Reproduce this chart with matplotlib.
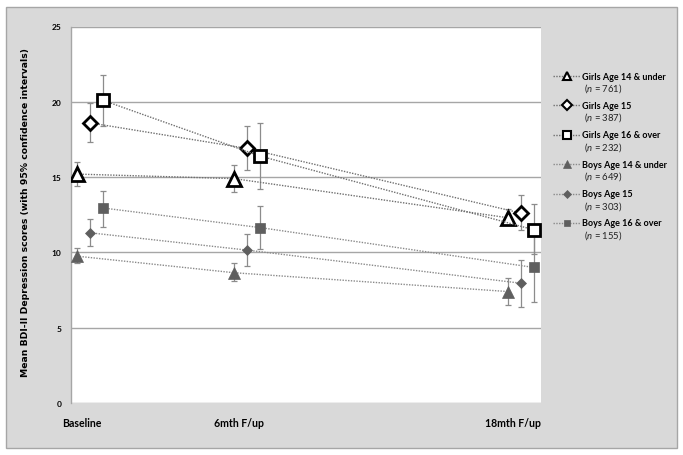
import matplotlib
matplotlib.use("Agg")
import matplotlib.pyplot as plt
from matplotlib.patches import Rectangle
from matplotlib.lines import Line2D
import numpy as np

plt.rcParams['font.family'] = ['Lato', 'DejaVu Sans']
plt.rcParams['mathtext.fontset'] = 'custom'
plt.rcParams['mathtext.rm'] = 'Lato'
plt.rcParams['mathtext.it'] = 'Lato:italic'
plt.rcParams['mathtext.bf'] = 'Lato:bold'

timepoints = ["Baseline", "6mth F/up", "18mth F/up"]
time_pos = [0.0, 1.0, 2.745]

series_names = ["Girls Age 14 & under", "Girls Age 15", "Girls Age 16 & over",
                "Boys Age 14 & under", "Boys Age 15", "Boys Age 16 & over"]
series_n = [761, 387, 232, 649, 303, 155]

girls14_mean = [15.2, 14.9, 12.3]
girls14_lo = [14.4, 14.0, 11.8]
girls14_hi = [16.0, 15.8, 12.9]

girls15_mean = [18.6, 16.9, 12.6]
girls15_lo = [17.3, 15.5, 11.5]
girls15_hi = [19.9, 18.4, 13.8]

girls16_mean = [20.1, 16.4, 11.5]
girls16_lo = [18.4, 14.2, 9.9]
girls16_hi = [21.8, 18.6, 13.2]

boys14_mean = [9.75, 8.65, 7.4]
boys14_lo = [9.3, 8.1, 6.5]
boys14_hi = [10.3, 9.3, 8.3]

boys15_mean = [11.3, 10.15, 7.95]
boys15_lo = [10.4, 9.1, 6.4]
boys15_hi = [12.2, 11.2, 9.5]

boys16_mean = [12.95, 11.65, 9.0]
boys16_lo = [11.7, 10.2, 6.7]
boys16_hi = [14.1, 13.1, 11.3]

means = [girls14_mean, girls15_mean, girls16_mean, boys14_mean, boys15_mean, boys16_mean]
los = [girls14_lo, girls15_lo, girls16_lo, boys14_lo, boys15_lo, boys16_lo]
his = [girls14_hi, girls15_hi, girls16_hi, boys14_hi, boys15_hi, boys16_hi]

offsets = [0.0, 0.085, 0.165, 0.0, 0.085, 0.165]
markers = ['^', 'D', 's', '^', 'D', 's']
msizes = [10, 7, 8.5, 8.5, 5.5, 7.5]
girls = [True, True, True, False, False, False]

W, H = 683, 456
fig = plt.figure(figsize=(W / 100, H / 100), dpi=100)
fig.patch.set_facecolor('white')
fig.patches.append(Rectangle((6/W, 1 - 449/H), 671/W, 441/H,
                             transform=fig.transFigure, facecolor='#d9d9d9',
                             edgecolor='#a6a6a6', linewidth=1.0, zorder=-10))

ax = fig.add_axes([71/W, 1 - 404/H, 470/W, 376.5/H])
ax.set_facecolor('white')

gray_err = '#8c8c8c'
styles = []
for i in range(6):
    x = np.array(time_pos) + offsets[i]
    m = np.array(means[i])
    lo = np.array(los[i])
    hi = np.array(his[i])
    ax.errorbar(x, m, yerr=[m - lo, hi - m], fmt='none', ecolor=gray_err,
                elinewidth=0.9, capsize=2.5, capthick=0.9, zorder=3)
    if girls[i]:
        st = dict(mfc='white', mec='black', mew=2.0, color='#6f6f6f')
    else:
        st = dict(mfc='#5f5f5f', mec='#5f5f5f', mew=0.5, color='#8a8a8a')
    styles.append(st)
    ax.plot(x, m, linestyle=(0, (1, 1)), color=st['color'], linewidth=1.0,
            marker=markers[i], markersize=msizes[i], markerfacecolor=st['mfc'],
            markeredgecolor=st['mec'], markeredgewidth=st['mew'], zorder=4)

ax.set_ylim(0, 25)
ax.set_xlim(-0.038, 2.955)
ax.set_yticks([0, 5, 10, 15, 20, 25])
ax.set_yticklabels(['0', '5', '10', '15', '20', '25'], fontsize=6, fontweight='bold')
ax.set_xticks(np.array(time_pos) + 0.03)
ax.set_xticklabels(timepoints, fontsize=7.6, fontweight='bold')
ax.tick_params(axis='x', length=0, pad=10)
ax.tick_params(axis='y', length=0, pad=7)
ax.grid(axis='y', color='#a6a6a6', linewidth=1.0)
ax.set_axisbelow(True)
for s in ['top', 'right', 'bottom']:
    ax.spines[s].set_visible(False)
ax.spines['left'].set_color('#a6a6a6')
ax.spines['left'].set_linewidth(1.0)

renderer = fig.canvas.get_renderer()


def fit_width(t, target_px, horizontal=True):
    bb = t.get_window_extent(renderer)
    size = bb.width if horizontal else bb.height
    t.set_fontsize(t.get_fontsize() * target_px / size)


ylab = fig.text(26/W, 1 - 212.5/H,
                'Mean BDI-II Depression scores (with 95% confidence intervals)',
                rotation=90, ha='center', va='center', fontsize=6.5, fontweight='bold',
                family='DejaVu Sans')
fit_width(ylab, 329, horizontal=False)

# legend (drawn manually in figure pixel coordinates)
row_y0, row_dy = 77.0, 29.4
leg_sizes = [6, 5, 5.5, 5.5, 4, 5]
name_texts = []
for i in range(6):
    y = 1 - (row_y0 + row_dy * i) / H
    xs = [553/W, 567/W, 580/W]
    st = styles[i]
    fig.add_artist(Line2D(xs, [y, y, y], transform=fig.transFigure,
                          linestyle=(0, (1, 1)), color=st['color'], linewidth=1.0,
                          marker=markers[i], markevery=[1], markersize=leg_sizes[i],
                          markerfacecolor=st['mfc'], markeredgecolor=st['mec'],
                          markeredgewidth=1.5 if girls[i] else 0.5))
    t = fig.text(582/W, y, series_names[i], ha='left', va='center',
                 fontsize=6.6, fontweight='bold', color='#000000')
    name_texts.append(t)
    fig.text(584/W, y - 11.5/H, r'($\mathit{n}$ = ' + str(series_n[i]) + ')',
             ha='left', va='center', fontsize=6.8, color='#222222')

fit_width(name_texts[0], 84)
fs = name_texts[0].get_fontsize()
for t in name_texts[1:]:
    t.set_fontsize(fs)

fig.savefig('out.png', dpi=100, facecolor='white')
